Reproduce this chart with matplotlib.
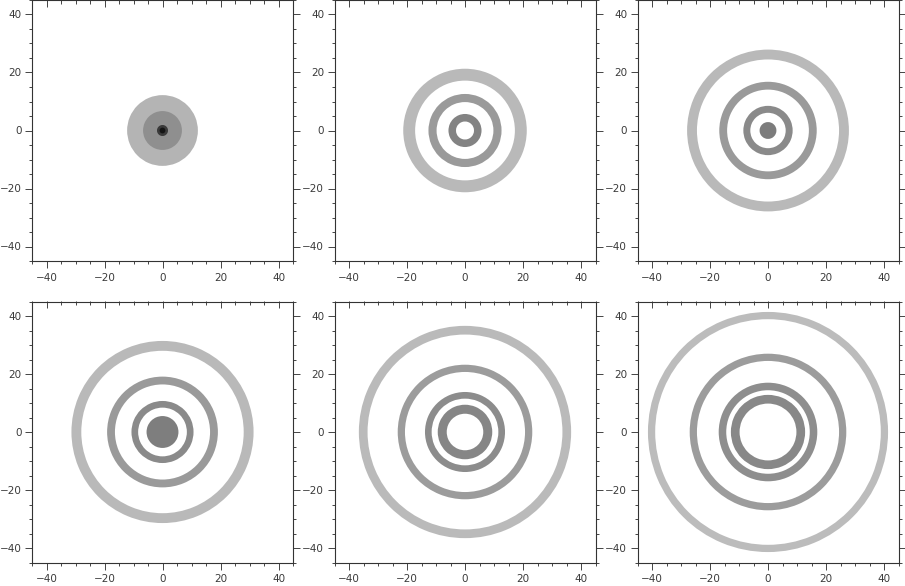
import matplotlib
matplotlib.use('Agg')

import matplotlib.pyplot as plt
import matplotlib.patches as patches
from matplotlib.ticker import MultipleLocator

# ring radii per panel (outer edge, inner edge), in plot units
outer_r = [
    [12.2, 6.7, 1.9, 1.0],
    [21.3, 12.6, 5.7],
    [27.9, 16.8, 8.5, 2.9],
    [31.4, 19.1, 10.7, 5.5],
    [36.6, 23.2, 13.8, 9.4],
    [41.4, 27.0, 17.0, 12.8],
]
inner_r = [
    [0.0, 0.0, 0.0, 0.0],
    [17.2, 9.8, 3.1],
    [24.5, 14.1, 6.1, 0.0],
    [28.0, 16.4, 8.4, 0.0],
    [33.6, 20.7, 11.5, 6.3],
    [38.9, 24.5, 14.4, 9.8],
]
# grey level of each ring
tones = [
    ['#b4b4b4', '#8f8f8f', '#3a3a3a', '#141414'],
    ['#b9b9b9', '#9a9a9a', '#838383'],
    ['#b9b9b9', '#9a9a9a', '#8a8a8a', '#7c7c7c'],
    ['#b9b9b9', '#9a9a9a', '#8a8a8a', '#7e7e7e'],
    ['#bababa', '#9c9c9c', '#8c8c8c', '#868686'],
    ['#bcbcbc', '#9c9c9c', '#8e8e8e', '#888888'],
]
major_ticks = [-40, -20, 0, 20, 40]
lim = 45

W, H = 905, 586
fig = plt.figure(figsize=(W / 100, H / 100), dpi=100)

col_left = [32, 334.5, 637.5]
row_top = [0, 301.5]
size = 261

for k in range(6):
    r, c = divmod(k, 3)
    ax = fig.add_axes([col_left[c] / W, 1 - (row_top[r] + size) / H, size / W, size / H])

    for ro, ri, col in zip(outer_r[k], inner_r[k], tones[k]):
        w = None if ri == 0 else ro - ri
        ax.add_patch(patches.Wedge((0, 0), ro, 0, 360, width=w,
                                   facecolor=col, edgecolor='none'))

    ax.set_xlim(-lim, lim)
    ax.set_ylim(-lim, lim)
    ax.set_xticks(major_ticks)
    ax.set_yticks(major_ticks)
    ax.xaxis.set_minor_locator(MultipleLocator(5))
    ax.yaxis.set_minor_locator(MultipleLocator(5))
    ax.tick_params(which='both', direction='out', color='#444444', width=0.7,
                   labelsize=7.5, labelcolor='#3a3a3a',
                   top=False, right=True, labelright=False)
    ax.tick_params(axis='x', which='major', length=5, pad=3.5)
    ax.tick_params(axis='y', which='major', length=5, pad=2.5)
    ax.tick_params(which='minor', length=2.5)
    for s in ax.spines.values():
        s.set_color('#333333')
        s.set_linewidth(0.8)

    # top ticks point inwards
    top = ax.secondary_xaxis('top')
    top.set_xticks(major_ticks)
    top.xaxis.set_minor_locator(MultipleLocator(5))
    top.tick_params(which='both', direction='in', color='#444444', width=0.7,
                    labeltop=False)
    top.tick_params(which='major', length=5)
    top.tick_params(which='minor', length=3)
    top.spines['top'].set_visible(False)

fig.savefig('out.png', dpi=100)
plt.close(fig)
